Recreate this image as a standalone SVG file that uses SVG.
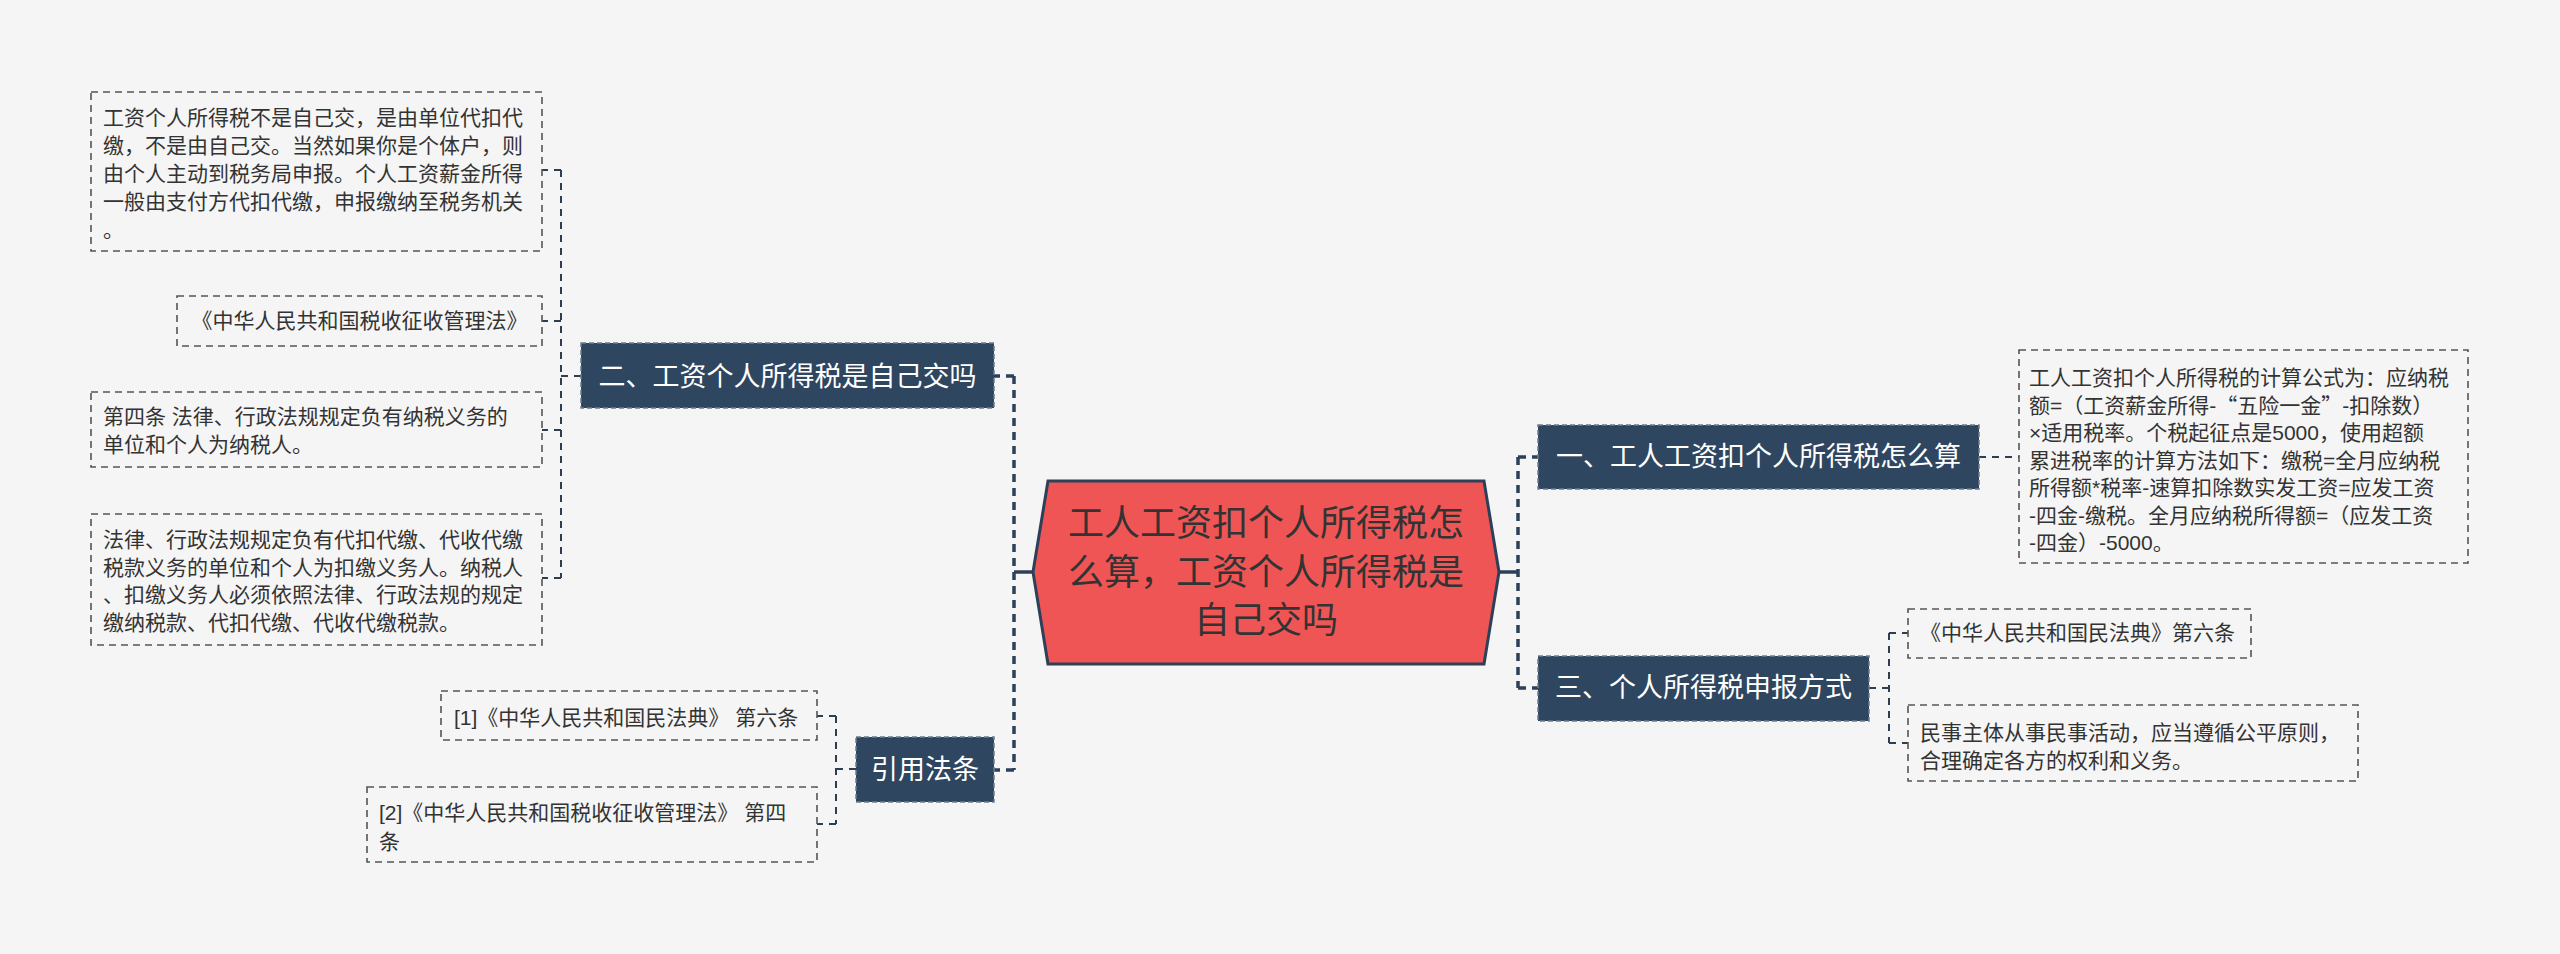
<svg xmlns="http://www.w3.org/2000/svg" width="2560" height="954" viewBox="0 0 2560 954">
<style>
.bg{fill:#f5f5f5}
.t{font-family:"Liberation Sans","Noto Sans CJK SC",sans-serif;fill:#333}
.cjk{font-family:"Noto Sans CJK SC",sans-serif}
.leaf{fill:none;stroke:#555;stroke-width:1.6;stroke-dasharray:7 5}
.lt{font-size:21px}
.br{fill:#2e4660;stroke:#6b7d8e;stroke-width:1.5;stroke-dasharray:5 3}
.bt{font-family:"Liberation Sans","Noto Sans CJK SC",sans-serif;font-size:27px;fill:#fff;text-anchor:middle}
.ct{font-family:"Liberation Sans","Noto Sans CJK SC",sans-serif;font-size:36px;fill:#333;text-anchor:middle}
.main{fill:none;stroke:#2d4059;stroke-width:3.5;stroke-dasharray:8 6}
.solid{fill:none;stroke:#2d4059;stroke-width:3.5}
.thin{fill:none;stroke:#2d3e50;stroke-width:2;stroke-dasharray:7 6}
</style>
<rect class="bg" x="0" y="0" width="2560" height="954"/>
<g id="connectors">
<path class="solid" d="M1033 572H1014"/>
<path class="main" d="M1014 376V770M1014 376H994M1014 770H994"/>
<path class="solid" d="M1499 572H1518"/>
<path class="main" d="M1518 457V688M1518 457H1538M1518 688H1538"/>
<path class="thin" d="M581 376H561M561 170V578M561 170H542M561 321H542M561 430H542M561 578H542"/>
<path class="thin" d="M856 769H836M836 716V824M836 716H817M836 824H817"/>
<path class="thin" d="M1979 457H2019"/>
<path class="thin" d="M1869 688H1889M1889 633V743M1889 633H1908M1889 743H1908"/>
</g>
<g id="center">
<polygon points="1033,572 1048,481 1484,481 1499,572 1484,664 1048,664" fill="#f05555" stroke="#2d4059" stroke-width="3"/>
<text class="ct" x="1266" y="536">工人工资扣个人所得税怎</text>
<text class="ct" x="1266" y="585">么算，工资个人所得税是</text>
<text class="ct" x="1266" y="633">自己交吗</text>
</g>
<g id="branch-2">
<rect class="br" x="581" y="343" width="413" height="65"/>
<text class="bt" x="787.5" y="386">二、工资个人所得税是自己交吗</text>
</g>
<g id="branch-cite">
<rect class="br" x="856" y="737" width="138" height="65"/>
<text class="bt" x="925" y="779">引用法条</text>
</g>
<g id="branch-1">
<rect class="br" x="1538" y="425" width="441" height="64"/>
<text class="bt" x="1758.5" y="466">一、工人工资扣个人所得税怎么算</text>
</g>
<g id="branch-3">
<rect class="br" x="1538" y="656" width="331" height="65"/>
<text class="bt" x="1703.5" y="697">三、个人所得税申报方式</text>
</g>
<g id="leaf-2a">
<rect class="leaf" x="91" y="92" width="451" height="159"/>
<text class="t lt" x="103" y="125">工资个人所得税不是自己交，是由单位代扣代</text>
<text class="t lt" x="103" y="153">缴，不是由自己交。当然如果你是个体户，则</text>
<text class="t lt" x="103" y="181">由个人主动到税务局申报。个人工资薪金所得</text>
<text class="t lt" x="103" y="209">一般由支付方代扣代缴，申报缴纳至税务机关</text>
<text class="t lt" x="103" y="237">。</text>
</g>
<g id="leaf-2b">
<rect class="leaf" x="177" y="296" width="365" height="50"/>
<text class="t lt" x="359.5" y="328" text-anchor="middle">《中华人民共和国税收征收管理法》</text>
</g>
<g id="leaf-2c">
<rect class="leaf" x="91" y="392" width="451" height="75"/>
<text class="t lt" x="103" y="424">第四条 法律、行政法规规定负有纳税义务的</text>
<text class="t lt" x="103" y="452">单位和个人为纳税人。</text>
</g>
<g id="leaf-2d">
<rect class="leaf" x="91" y="514" width="451" height="131"/>
<text class="t lt" x="103" y="547">法律、行政法规规定负有代扣代缴、代收代缴</text>
<text class="t lt" x="103" y="575">税款义务的单位和个人为扣缴义务人。纳税人</text>
<text class="t lt" x="103" y="602">、扣缴义务人必须依照法律、行政法规的规定</text>
<text class="t lt" x="103" y="630">缴纳税款、代扣代缴、代收代缴税款。</text>
</g>
<g id="leaf-cite1">
<rect class="leaf" x="441" y="691" width="376" height="49"/>
<text class="t lt" x="454" y="725">[1]《中华人民共和国民法典》 第六条</text>
</g>
<g id="leaf-cite2">
<rect class="leaf" x="367" y="787" width="450" height="75"/>
<text class="t lt" x="379" y="820">[2]《中华人民共和国税收征收管理法》 第四</text>
<text class="t lt" x="379" y="849">条</text>
</g>
<g id="leaf-1a">
<rect class="leaf" x="2019" y="350" width="449" height="213"/>
<text class="t lt" x="2029" y="385">工人工资扣个人所得税的计算公式为：应纳税</text>
<text class="t lt" x="2029" y="413">额=（工资薪金所得-<tspan class="cjk">“</tspan>五险一金<tspan class="cjk">”</tspan>-扣除数）</text>
<text class="t lt" x="2029" y="440">×适用税率。个税起征点是5000，使用超额</text>
<text class="t lt" x="2029" y="468">累进税率的计算方法如下：缴税=全月应纳税</text>
<text class="t lt" x="2029" y="495">所得额*税率-速算扣除数实发工资=应发工资</text>
<text class="t lt" x="2029" y="523">-四金-缴税。全月应纳税所得额=（应发工资</text>
<text class="t lt" x="2029" y="550">-四金）-5000。</text>
</g>
<g id="leaf-3a">
<rect class="leaf" x="1908" y="609" width="343" height="49"/>
<text class="t lt" x="1920" y="640">《中华人民共和国民法典》第六条</text>
</g>
<g id="leaf-3b">
<rect class="leaf" x="1908" y="705" width="450" height="76"/>
<text class="t lt" x="1920" y="740">民事主体从事民事活动，应当遵循公平原则，</text>
<text class="t lt" x="1920" y="768">合理确定各方的权利和义务。</text>
</g>
</svg>
